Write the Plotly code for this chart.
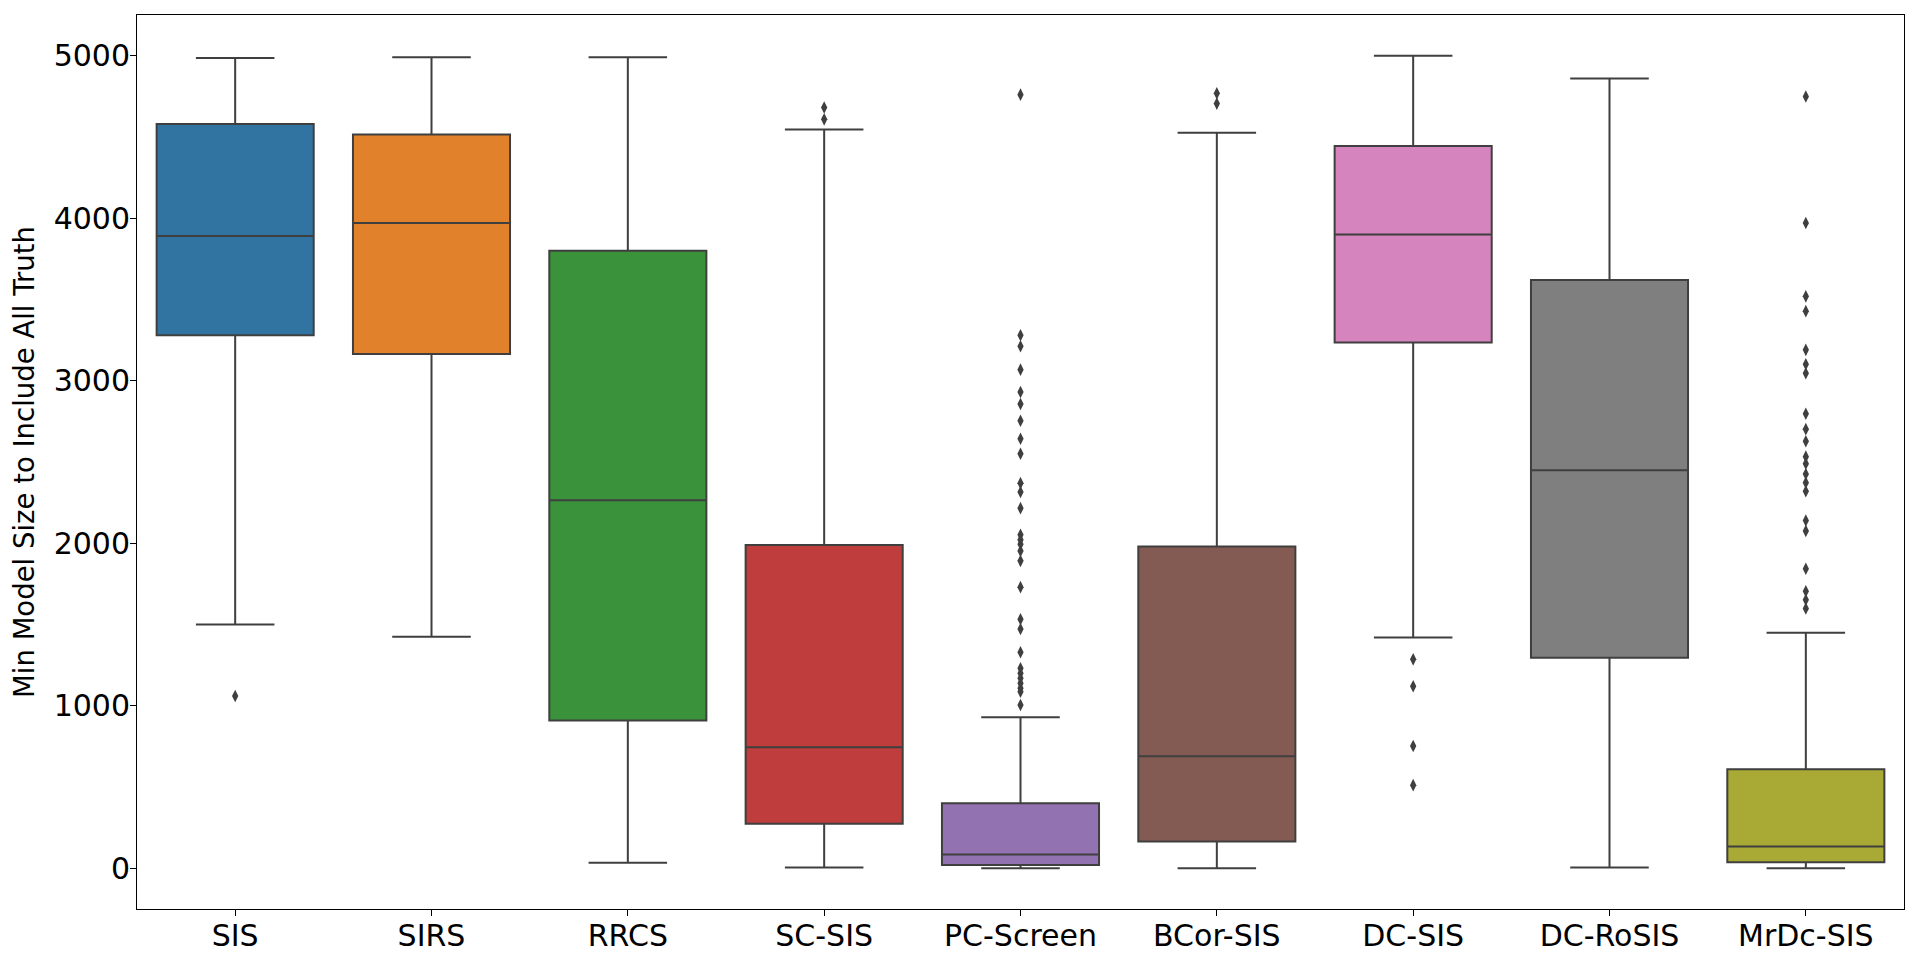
import plotly.graph_objects as go

# methods on the x axis
methods = ["SIS", "SIRS", "RRCS", "SC-SIS", "PC-Screen", "BCor-SIS", "DC-SIS", "DC-RoSIS", "MrDc-SIS"]

# box statistics
lower_whisker = [1500, 1425, 34, 5, 0, 0, 1420, 5, 0]
q1 = [3280, 3165, 910, 275, 20, 165, 3235, 1295, 38]
median = [3890, 3970, 2265, 745, 85, 690, 3900, 2450, 135]
q3 = [4580, 4515, 3800, 1989, 400, 1980, 4444, 3620, 610]
upper_whisker = [4985, 4990, 4990, 4545, 930, 4526, 5000, 4860, 1450]

# flier points per method
outliers = {
    "SIS": [1060],
    "SIRS": [],
    "RRCS": [],
    "SC-SIS": [4608, 4681],
    "PC-Screen": [4760, 3280, 3212, 3068, 2931, 2857, 2754, 2643, 2551, 2370, 2315, 2216,
                  2052, 2021, 1994, 1953, 1892, 1730, 1533, 1473, 1330, 1231, 1200, 1170,
                  1139, 1108, 1087, 1005],
    "BCor-SIS": [4705, 4768],
    "DC-SIS": [1286, 1120, 753, 512],
    "DC-RoSIS": [],
    "MrDc-SIS": [4749, 3970, 3519, 3428, 3190, 3101, 3046, 2797, 2702, 2628, 2533, 2490,
                 2426, 2373, 2320, 2140, 2076, 1843, 1705, 1652, 1599],
}

colors = ["#3274a1", "#e1812c", "#3a923a", "#c03d3e", "#9372b2",
          "#845b53", "#d684bd", "#7f7f7f", "#a9aa35"]
edge = "#3f3f3f"

fig = go.Figure()

for i, m in enumerate(methods):
    fig.add_trace(go.Box(
        x=[m],
        q1=[q1[i]], median=[median[i]], q3=[q3[i]],
        lowerfence=[lower_whisker[i]], upperfence=[upper_whisker[i]],
        fillcolor=colors[i],
        line=dict(color=edge, width=2),
        width=0.8,
        whiskerwidth=0.5,
        boxpoints=False,
        showlegend=False,
        hoverinfo="skip",
    ))
    if outliers[m]:
        fig.add_trace(go.Scatter(
            x=[m] * len(outliers[m]), y=outliers[m],
            mode="markers",
            marker=dict(symbol="diamond-tall", size=9, color=edge),
            showlegend=False,
        ))

# page body has an 8px margin, so the figure is 8px smaller and shifted
fig.update_layout(
    width=1912, height=953,
    margin=dict(l=129, r=16, t=7, b=52),
    plot_bgcolor="white",
    paper_bgcolor="white",
    font=dict(family="DejaVu Sans", color="black"),
)

fig.update_xaxes(
    categoryorder="array", categoryarray=methods,
    range=[-0.5, 8.5],
    showline=True, linecolor="black", linewidth=1, mirror=True,
    ticks="outside", ticklen=6, tickcolor="black", ticklabelstandoff=-6,
    showgrid=False, tickfont=dict(size=30),
)
fig.update_yaxes(
    range=[-250, 5250],
    tickvals=[0, 1000, 2000, 3000, 4000, 5000],
    showline=True, linecolor="black", linewidth=1, mirror=True,
    ticks="outside", ticklen=6, tickcolor="black", ticklabelstandoff=-6,
    showgrid=False, zeroline=False, tickfont=dict(size=30),
    title=dict(text="Min Model Size to Include All Truth", font=dict(size=27.5), standoff=12),
)

fig.write_html("out.html")
